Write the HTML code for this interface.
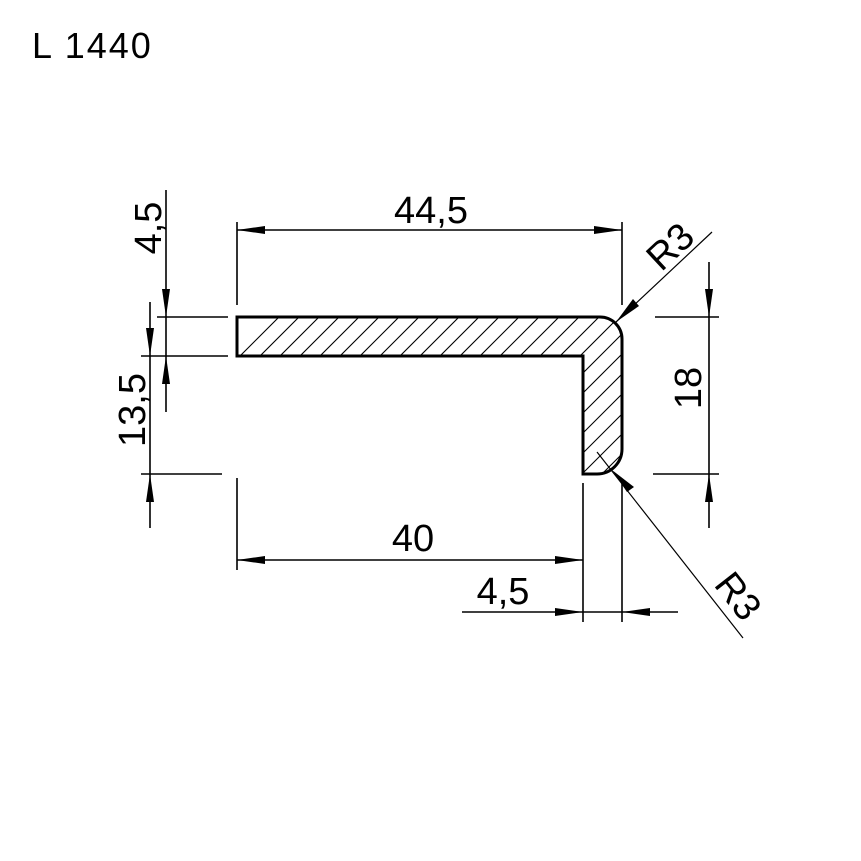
<!DOCTYPE html>
<html><head><meta charset="utf-8"><style>
html,body{margin:0;padding:0;background:#fff;}
svg{display:block;}
text{font-family:"Liberation Sans",sans-serif;fill:#000;}
</style></head><body>
<svg width="861" height="861" viewBox="0 0 861 861" xmlns="http://www.w3.org/2000/svg">
<defs>
<clipPath id="prof">
<path d="M237,317 H600 A22,22 0 0 1 622,339 V449 A25,25 0 0 1 597,474 H583 V356 H237 Z"/>
</clipPath>
</defs>
<rect width="861" height="861" fill="#fff"/>
<text x="32" y="58" font-size="36" letter-spacing="2">L 1440</text>

<g clip-path="url(#prof)" stroke="#000" stroke-width="1.1">
<path d="M220,376 L300,296 M240,376 L320,296 M260,376 L340,296 M280,376 L360,296 M300,376 L380,296 M320,376 L400,296 M340,376 L420,296 M360,376 L440,296 M380,376 L460,296 M400,376 L480,296 M420,376 L500,296 M440,376 L520,296 M460,376 L540,296 M480,376 L560,296 M500,376 L580,296 M520,376 L600,296 M540,376 L620,296 M560,376 L640,296 M560,396 L660,296 M560,416 L680,296 M560,436 L680,316 M560,456 L680,336 M560,476 L680,356 M560,496 L680,376 M560,516 L680,396 M560,536 L680,416"/>
</g>
<path d="M237,317 H600 A22,22 0 0 1 622,339 V449 A25,25 0 0 1 597,474 H583 V356 H237 Z" fill="none" stroke="#000" stroke-width="3"/>

<g stroke="#000" stroke-width="1.6" fill="none">
<line x1="237" y1="222" x2="237" y2="305"/>
<line x1="622" y1="222" x2="622" y2="305"/>
<line x1="237" y1="230" x2="622" y2="230"/>
<line x1="166" y1="190" x2="166" y2="412"/>
<line x1="157" y1="317" x2="228" y2="317"/>
<line x1="141" y1="356" x2="228" y2="356"/>
<line x1="150" y1="302" x2="150" y2="528"/>
<line x1="141" y1="474" x2="222" y2="474"/>
<line x1="709" y1="262" x2="709" y2="528"/>
<line x1="655" y1="317" x2="719" y2="317"/>
<line x1="653" y1="474" x2="719" y2="474"/>
<line x1="237" y1="478" x2="237" y2="570"/>
<line x1="583" y1="483" x2="583" y2="622"/>
<line x1="237" y1="560" x2="583" y2="560"/>
<line x1="622" y1="483" x2="622" y2="622"/>
<line x1="462" y1="612" x2="678" y2="612"/>
</g>
<g stroke="#000" stroke-width="1.2">
<line x1="616" y1="322" x2="712" y2="232"/>
<line x1="597" y1="452" x2="743" y2="638"/>
</g>

<g fill="#000">
<polygon points="237,230 265,226 265,234"/>
<polygon points="622,230 594,226 594,234"/>
<polygon points="166,317 162,289 170,289"/>
<polygon points="166,356 162,384 170,384"/>
<polygon points="150,356 146,328 154,328"/>
<polygon points="150,474 146,502 154,502"/>
<polygon points="709,317 705,289 713,289"/>
<polygon points="709,474 705,502 713,502"/>
<polygon points="237,560 265,556 265,564"/>
<polygon points="583,560 555,556 555,564"/>
<polygon points="583,612 555,608 555,616"/>
<polygon points="622,612 650,608 650,616"/>
<polygon points="616,322 633,299 639,306"/>
<polygon points="612,470 634,487 627,492"/>
</g>

<text x="431" y="223" font-size="38" text-anchor="middle">44,5</text>
<text x="413" y="551" font-size="38" text-anchor="middle">40</text>
<text x="503" y="604" font-size="38" text-anchor="middle">4,5</text>
<text transform="translate(161,228) rotate(-90)" font-size="38" text-anchor="middle">4,5</text>
<text transform="translate(145,410) rotate(-90)" font-size="38" text-anchor="middle">13,5</text>
<text transform="translate(701,388) rotate(-90)" font-size="38" text-anchor="middle">18</text>
<text transform="translate(679,256) rotate(-43)" font-size="38" text-anchor="middle">R3</text>
<text transform="translate(728,604) rotate(52)" font-size="38" text-anchor="middle">R3</text>
</svg>
</body></html>
